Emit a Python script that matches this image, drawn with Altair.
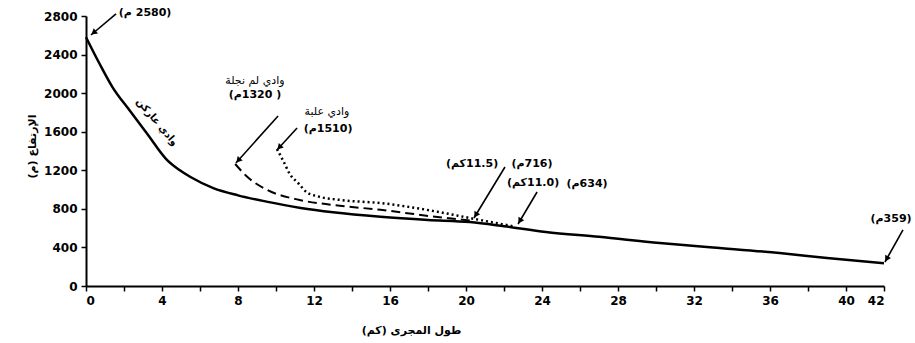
import math
import altair as alt
import pandas as pd

RLE, PDF = "\u202B", "\u202C"

# ---- main channel (وادي عاركن) ----
main_km = [0, 0.7, 1.4, 2.3, 3.2, 4.3, 4.9, 5.5, 6.7, 8, 9.5, 11.3, 13, 15.5, 18, 20.2, 22, 24.2, 27, 30.2, 33, 36.5, 39, 42]
main_elev = [2580, 2310, 2060, 1820, 1585, 1300, 1205, 1130, 1015, 940, 875, 810, 765, 718, 685, 663, 620, 560, 510, 446, 400, 342, 290, 235]

# ---- tributary (وادي لم نجلة), dashed ----
dash_km = [7.85, 8.5, 9.5, 11.3, 13, 15.5, 18.5, 20.4]
dash_elev = [1265, 1130, 1000, 890, 840, 790, 715, 675]

# ---- tributary (وادي علبة), dotted ----
dot_km = [10.05, 10.4, 10.7, 11.2, 11.6, 12.2, 13.5, 15.5, 18.5, 20.2, 22.6]
dot_elev = [1420, 1290, 1170, 1060, 975, 930, 890, 860, 770, 705, 615]


def rtl(s):
    return RLE + s + PDF


# ---- annotation texts (values) ----
num_text = [rtl("(2580 م)"), rtl("( 1320م)"), rtl("(1510م)"), rtl("(11.5كم)"),
            rtl("(716م)"), rtl("(11.0كم)"), rtl("(634م)"), rtl("(359م)")]
num_km = [3.11, 8.89, 12.74, 20.32, 23.47, 23.53, 26.37, 42.37]
num_elev = [2831, 1981, 1628, 1265, 1265, 1068, 1058, 695]

# ---- annotation texts (names) ----
name_text = [rtl("وادي لم نجلة"), rtl("وادي علبة")]
name_km = [8.89, 12.68]
name_elev = [2126, 1804]

curve_name = [rtl("وادي عاركن")]
curve_name_km = [3.74]
curve_name_elev = [1700]

# ---- arrows: tail -> tip ----
arr_km = [1.58, 10.11, 11.11, 22.05, 23.74, 43.0]
arr_elev = [2821, 1763, 1638, 1234, 975, 581]
arr_km2 = [0.26, 7.89, 10.05, 20.42, 22.74, 42.05]
arr_elev2 = [2603, 1276, 1410, 705, 643, 249]

x_ticks = list(range(0, 43, 2))
y_ticks = [0, 400, 800, 1200, 1600, 2000, 2400, 2800]

W, H = 798, 270
XMAX, YMAX = 42, 2800
sx, sy = W / XMAX, H / YMAX

main_df = pd.DataFrame({"km": main_km, "elev": main_elev})
dash_df = pd.DataFrame({"km": dash_km, "elev": dash_elev})
dot_df = pd.DataFrame({"km": dot_km, "elev": dot_elev})
num_df = pd.DataFrame({"km": num_km, "elev": num_elev, "t": num_text})
nm_df = pd.DataFrame({"km": name_km, "elev": name_elev, "t": name_text})
cn_df = pd.DataFrame({"km": curve_name_km, "elev": curve_name_elev, "t": curve_name})

rows = []
for a, b, c, d in zip(arr_km, arr_elev, arr_km2, arr_elev2):
    dx = (c - a) * sx
    dy = -(d - b) * sy
    L = math.hypot(dx, dy)
    ux, uy = dx / L, dy / L
    ang = math.degrees(math.atan2(dx, -dy)) % 360
    hk = c - 3.5 * ux / sx
    he = d + 3.5 * uy / sy
    rows.append({"km": a, "elev": b, "km2": c, "elev2": d, "hk": hk, "he": he, "ang": ang})
arr_df = pd.DataFrame(rows)

xs = alt.Scale(domain=[0, XMAX], nice=False)
ys = alt.Scale(domain=[0, YMAX], nice=False)

x_title = rtl("طول المجرى (كم)")
y_title = rtl("الإرتفاع (م)")

x_axis = alt.Axis(
    values=x_ticks, title=x_title,
    labelExpr="(datum.value % 4 == 0 || datum.value == 42) ? datum.label : ''",
    titleX=325, titleY=44, titleBaseline="middle", titleAlign="center",
)
y_axis = alt.Axis(
    values=y_ticks, title=y_title, format="d",
    titleX=-54, titleY=130, titleAlign="center", titleBaseline="middle", titleAngle=-90,
)


def X(f="km"):
    return alt.X(f + ":Q", scale=xs, axis=x_axis)


def Y(f="elev"):
    return alt.Y(f + ":Q", scale=ys, axis=y_axis)


main = alt.Chart(main_df).mark_line(color="black", strokeWidth=2.5, interpolate="monotone").encode(x=X(), y=Y())
dash = alt.Chart(dash_df).mark_line(color="black", strokeWidth=2, strokeDash=[9, 5], interpolate="monotone").encode(x=X(), y=Y())
dot = alt.Chart(dot_df).mark_line(color="black", strokeWidth=2.5, strokeDash=[2, 3], interpolate="monotone").encode(x=X(), y=Y())

shafts = alt.Chart(arr_df).mark_rule(color="black", strokeWidth=1.6).encode(
    x=X(), y=Y(), x2="km2:Q", y2="elev2:Q")
heads = alt.Chart(arr_df).mark_point(shape="triangle-up", filled=True, color="black", size=45, opacity=1).encode(
    x=X("hk"), y=Y("he"), angle=alt.Angle("ang:Q", scale=None))

nums = alt.Chart(num_df).mark_text(font="DejaVu Sans", fontSize=11, fontWeight="bold", color="black",
                                   align="center", baseline="middle").encode(
    x=X(), y=Y(), text="t:N")
names = alt.Chart(nm_df).mark_text(font="DejaVu Sans", fontSize=11, color="black",
                                   align="center", baseline="middle").encode(
    x=X(), y=Y(), text="t:N")

cname = alt.Chart(cn_df).mark_text(font="DejaVu Sans", fontSize=10, fontWeight="bold", color="black",
                                   align="center", baseline="middle", angle=50).encode(
    x=X(), y=Y(), text="t:N")

chart = alt.layer(main, dash, dot, shafts, heads, nums, names, cname).properties(
    width=W, height=H,
    autosize=alt.AutoSizeParams(type="none"),
    padding={"left": 86, "top": 16, "right": 31, "bottom": 57},
    background="white",
).configure_view(stroke=None).configure_axis(
    grid=False, domainColor="black", domainWidth=2, tickColor="black", tickWidth=1.5, tickSize=5,
    labelFont="DejaVu Sans", labelFontWeight="bold", labelFontSize=12, labelColor="black",
    labelPadding=4, titleFont="DejaVu Sans", titleFontSize=11, titleFontWeight="bold", titleColor="black",
    labelOverlap=False,
)

chart.save("out.html", embed_options={"renderer": "svg", "actions": False})
